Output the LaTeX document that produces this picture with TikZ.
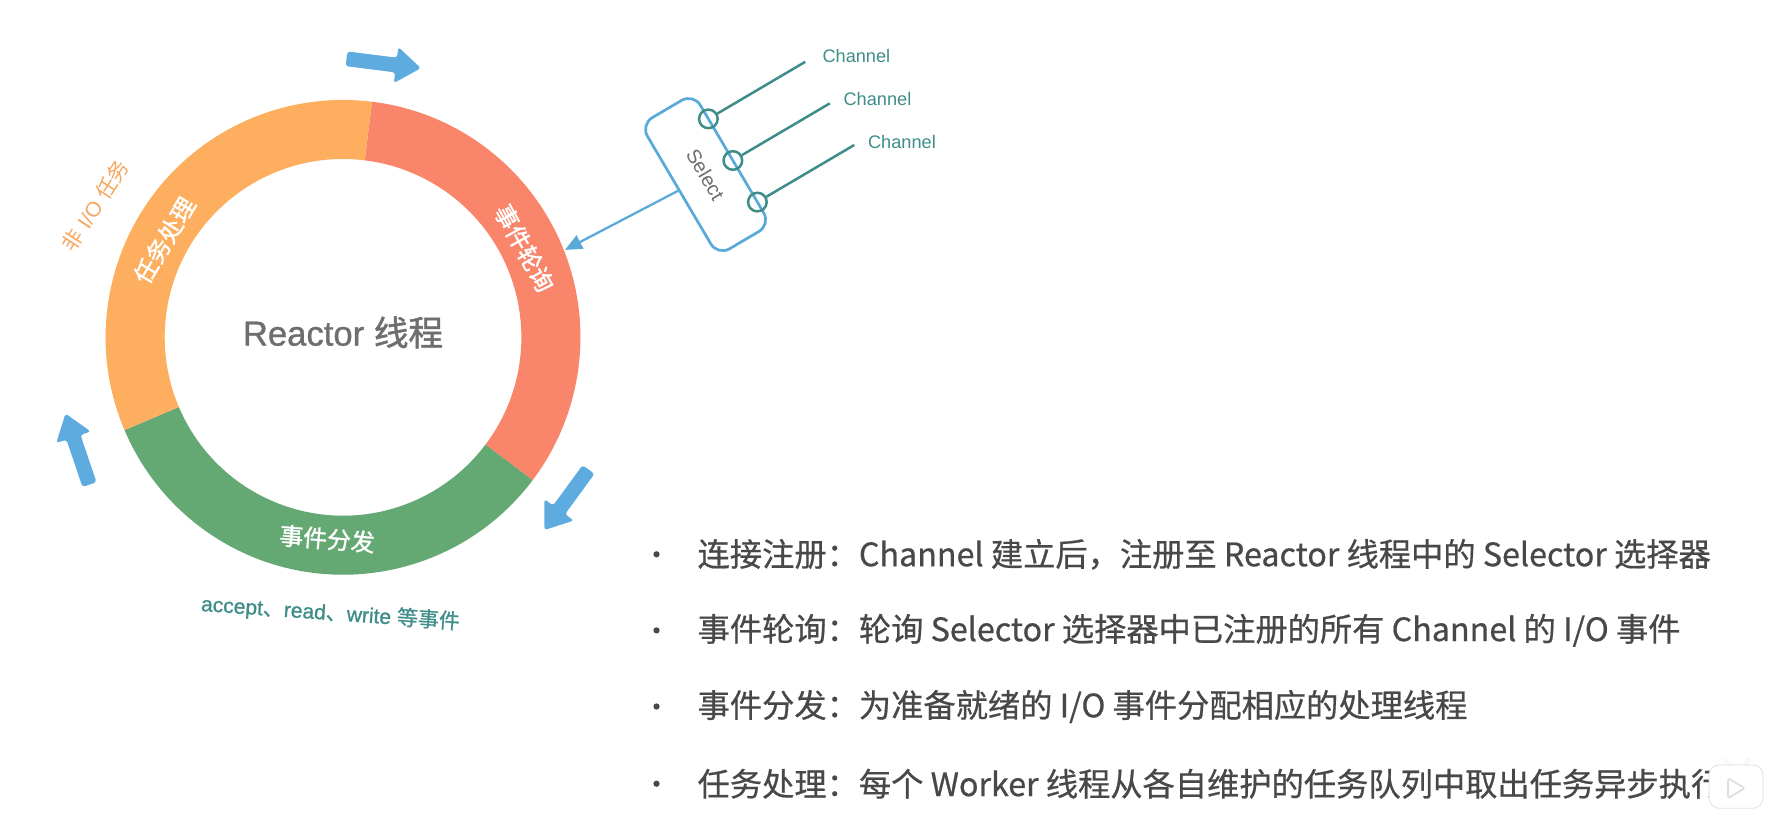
\documentclass[tikz,border=0pt]{standalone}
\usepackage{fontspec}
\setmainfont{Liberation Sans}
\newfontfamily\cjk{Noto Sans CJK SC}
\newfontfamily\cjkb[FakeBold=1.4]{Noto Sans CJK SC}
\newfontfamily\cjkm[FakeBold=0.6]{Noto Sans CJK SC}
\newfontfamily\hel{Liberation Sans}
\newfontfamily\helb[FakeBold=1.0]{Liberation Sans}
\usetikzlibrary{arrows.meta,calc}
\definecolor{ringor}{HTML}{FDAF5F}
\definecolor{ringred}{HTML}{F9866A}
\definecolor{ringgreen}{HTML}{64A874}
\definecolor{arrblue}{HTML}{5EABDF}
\definecolor{selblue}{HTML}{5AAAD9}
\definecolor{chteal}{HTML}{3E8D89}
\definecolor{midgray}{HTML}{6E6E6E}
\definecolor{bullgray}{HTML}{484848}
\definecolor{niotext}{HTML}{F6A65E}
\tikzset{
  blockarrow/.style={fill=arrblue, rounded corners=2.5pt},
  ringlabel/.style={text=white, font=\fontsize{21}{21}\selectfont\cjkb, inner sep=0pt},
  chanlabel/.style={text=chteal, font=\fontsize{16}{16}\selectfont\hel, inner sep=0pt, anchor=west},
  chcirc/.style={circle, draw=chteal, line width=2.2pt, minimum size=16.4pt, inner sep=0pt},
  chline/.style={draw=chteal, line width=2.2pt},
  selbox/.style={draw=selblue, line width=2.4pt, rounded corners=12pt, minimum width=134pt, minimum height=54pt, inner sep=0pt, text=midgray, font=\fontsize{17.5}{17.5}\selectfont\hel},
  bullettext/.style={text=bullgray, font=\fontsize{28.4}{28.4}\selectfont\cjkm, anchor=west, inner sep=0pt},
  bulletdot/.style={circle, fill=bullgray, inner sep=0pt, minimum size=5.5pt},
}
\begin{document}
\begin{tikzpicture}[x=1pt,y=1pt]
\fill[white] (0,0) rectangle (1568,738);
\useasboundingbox (0,0) rectangle (1568,738);

% ring
\coordinate (C) at (302,441);
\fill[ringred] ($(C)+(83:209)$) arc[start angle=83,end angle=-37,radius=209] -- ($(C)+(-37:157)$) arc[start angle=-37,end angle=83,radius=157] -- cycle;
\fill[ringgreen] ($(C)+(-37:209)$) arc[start angle=-37,end angle=-157,radius=209] -- ($(C)+(-157:157)$) arc[start angle=-157,end angle=-37,radius=157] -- cycle;
\fill[ringor] ($(C)+(203:209)$) arc[start angle=203,end angle=83,radius=209] -- ($(C)+(83:157)$) arc[start angle=83,end angle=203,radius=157] -- cycle;

\node[ringlabel, rotate=59] (lt) at ($(C)+(151.5:179)$) {任务处理};
\node[ringlabel, rotate=-61] (lp) at ($(C)+(26.2:178)$) {事件轮询};
\node[ringlabel, rotate=-4.5] (ld) at ($(C)+(-94.5:178)$) {事件分发};

\node[text=midgray, font=\fontsize{30.5}{30.5}\selectfont, inner sep=0pt] (center) at (302,445.4) {{\helb Reactor} {\cjkb 线程}};

\node[text=niotext, font=\fontsize{18.5}{18.5}\selectfont, rotate=57, inner sep=0pt] (nio) at (84,557) {{\cjk 非}\hspace{0.3em}{\hel I/O}\hspace{0.3em}{\cjk 任务}};

\node[text=chteal, font=\fontsize{18.5}{18.5}\selectfont, rotate=-4, inner sep=0pt] (evt) at (291,198) {{\helb accept}{\cjkm 、}{\helb read}{\cjkm 、}{\helb write} {\cjkm 等事件}};

% block arrows
\fill[blockarrow, shift={(337.8,682.1)}, rotate=-7.2] (-33,-6.5) -- (11,-6.5) -- (11,-16) -- (33,0) -- (11,16) -- (11,6.5) -- (-33,6.5) -- cycle;
\fill[blockarrow, shift={(68.2,342.6)}, rotate=108.7] (-33,-6.5) -- (11,-6.5) -- (11,-16) -- (33,0) -- (11,16) -- (11,6.5) -- (-33,6.5) -- cycle;
\fill[blockarrow, shift={(498.7,298)}, rotate=233.9] (-33,-6.5) -- (11,-6.5) -- (11,-16) -- (33,0) -- (11,16) -- (11,6.5) -- (-33,6.5) -- cycle;

% select box
\node[selbox, rotate=-59.5] (sel) at (621.2,584.3) {Select};
\begin{scope}[shift={(sel.center)}, rotate=-59.5]
  \node[chcirc] (c1) at (-41,27) {};
  \node[chcirc] (c2) at (1.5,27) {};
  \node[chcirc] (c3) at (44,27) {};
  \coordinate (e1) at (-41,126);
  \coordinate (e2) at (1.5,126);
  \coordinate (e3) at (44,126);
\end{scope}
\draw[chline] (c1) -- (e1);
\draw[chline] (c2) -- (e2);
\draw[chline] (c3) -- (e3);
\node[chanlabel] (ch1) at ($(e1)+(15,5)$) {Channel};
\node[chanlabel] (ch2) at ($(e2)+(12,4)$) {Channel};
\node[chanlabel] (ch3) at ($(e3)+(12,3)$) {Channel};

\coordinate (pollin) at ($(C)+(21.5:210)$);
\draw[selblue, line width=2pt, -{Triangle[length=15pt,width=13pt]}] (sel.south) -- (pollin);

% bullets
\node[bulletdot] (b1) at (578,250) {};
\node[bullettext] (t1) at (614,250) {连接注册：Channel 建立后，注册至 Reactor 线程中的 Selector 选择器};
\node[bulletdot] (b2) at (578,183) {};
\node[bullettext] (t2) at (614,183) {事件轮询：轮询 Selector 选择器中已注册的所有 Channel 的 I/O 事件};
\node[bulletdot] (b3) at (578,116) {};
\node[bullettext] (t3) at (614,116) {事件分发：为准备就绪的 I/O 事件分配相应的处理线程};
\node[bulletdot] (b4) at (578,48) {};
\node[bullettext] (t4) at (614,48) {任务处理：每个 Worker 线程从各自维护的任务队列中取出任务异步执行};

% watermark
\draw[black!10, line width=2.5pt, line cap=round] (1518.5,69) -- (1523.5,63.7);
\draw[black!10, line width=2.5pt, line cap=round] (1540,69.6) -- (1535.2,63.7);
\draw[white, line width=1.6pt, line cap=round] (1518.5,69) -- (1523.5,63.7);
\draw[white, line width=1.6pt, line cap=round] (1540,69.6) -- (1535.2,63.7);
\filldraw[fill=white, draw=black!10, line width=0.8pt, rounded corners=9pt] (1504.7,26.4) rectangle (1552.2,64.6);
\draw[black!12, line width=1.6pt, rounded corners=2pt] (1521.4,52.8) -- (1521.4,35.3) -- (1536.1,44.1) -- cycle;
\end{tikzpicture}
\end{document}
